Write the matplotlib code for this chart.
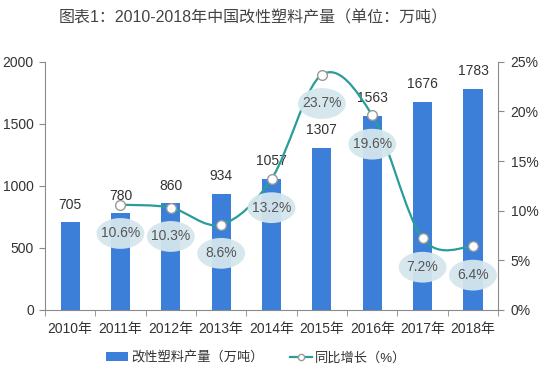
import matplotlib
matplotlib.use("Agg")
import matplotlib.pyplot as plt
import numpy as np
from matplotlib.path import Path
from matplotlib.patches import PathPatch, Ellipse
from matplotlib.lines import Line2D
from matplotlib.patches import Patch

plt.rcParams['font.family'] = ['Liberation Sans', 'Noto Sans CJK SC', 'DejaVu Sans']

years = ["2010年", "2011年", "2012年", "2013年", "2014年", "2015年", "2016年", "2017年", "2018年"]
output = [705, 780, 860, 934, 1057, 1307, 1563, 1676, 1783]
growth = [None, 10.6, 10.3, 8.6, 13.2, 23.7, 19.6, 7.2, 6.4]
growth_labels = ["", "10.6%", "10.3%", "8.6%", "13.2%", "23.7%", "19.6%", "7.2%", "6.4%"]
left_ticks = [0, 500, 1000, 1500, 2000]
right_ticks = [0, 5, 10, 15, 20, 25]

bar_color = "#3b7fd8"
line_color = "#2a9d9a"
axis_color = "#8a8a8a"
text_color = "#333333"

fig = plt.figure(figsize=(5.48, 3.84), dpi=100)
ax = fig.add_axes([0.082, 0.193, 0.827, 0.646])
ax2 = ax.twinx()

x = np.arange(len(years))
ax.bar(x, output, width=0.38, color=bar_color, zorder=2)
for xi, v in zip(x, output):
    ax.text(xi, v + 85, str(v), ha='center', va='bottom', fontsize=10, color=text_color)

ax.set_xlim(-0.5, len(years) - 0.5)
ax.set_ylim(0, 2000)
ax.set_yticks(left_ticks)
ax.set_yticklabels([str(t) for t in left_ticks], fontsize=10, color=text_color)
ax.set_xticks(x)
ax.set_xticklabels(years, fontsize=10, color=text_color)
ax.set_xticks(np.arange(-0.5, len(years), 1.0), minor=True)
ax.tick_params(axis='x', which='major', length=0, pad=9)
ax.tick_params(axis='x', which='minor', length=4, color=axis_color)
ax.tick_params(axis='y', length=4, color=axis_color, pad=4)

ax2.set_ylim(0, 25)
ax2.set_yticks(right_ticks)
ax2.set_yticklabels([f"{t}%" for t in right_ticks], fontsize=10, color=text_color)
ax2.tick_params(axis='y', length=4, color=axis_color, pad=5)

for a in (ax, ax2):
    a.spines['top'].set_visible(False)
    a.spines['left'].set_color(axis_color)
    a.spines['right'].set_color(axis_color)
    a.spines['bottom'].set_color(axis_color)
ax2.spines['left'].set_visible(False)
ax.spines['right'].set_visible(False)
ax2.spines['bottom'].set_visible(False)

# smooth line (Catmull-Rom as Bezier path)
gx = [xi for xi, g in zip(x, growth) if g is not None]
gy = [g for g in growth if g is not None]
pts = list(zip(gx, gy))
verts = [pts[0]]
codes = [Path.MOVETO]
n = len(pts)
for i in range(n - 1):
    p0 = pts[i - 1] if i > 0 else pts[i]
    p1 = pts[i]
    p2 = pts[i + 1]
    p3 = pts[i + 2] if i + 2 < n else pts[i + 1]
    c1 = (p1[0] + (p2[0] - p0[0]) / 6, p1[1] + (p2[1] - p0[1]) / 6)
    c2 = (p2[0] - (p3[0] - p1[0]) / 6, p2[1] - (p3[1] - p1[1]) / 6)
    verts += [c1, c2, p2]
    codes += [Path.CURVE4] * 3
ax2.add_patch(PathPatch(Path(verts, codes), facecolor='none', edgecolor=line_color, lw=1.6, zorder=3))
ax2.plot(gx, gy, linestyle='none', marker='o', markersize=7, markerfacecolor='white',
         markeredgecolor='#9a9a9a', markeredgewidth=1.0, zorder=4)

# label bubbles below points
for xi, g, lab in zip(x, growth, growth_labels):
    if g is None:
        continue
    ly = g - 2.9
    e = Ellipse((xi, ly), width=0.95, height=3.1, facecolor='#d5e6ee', edgecolor='none', alpha=0.95, zorder=5)
    ax2.add_patch(e)
    ax2.text(xi, ly, lab, ha='center', va='center', fontsize=10, color='#555555', zorder=6)

fig.text(0.462, 0.953, "图表1：2010-2018年中国改性塑料产量（单位：万吨）", ha='center', va='center',
         fontsize=11.5, color='#444444')

handles = [Patch(facecolor=bar_color, edgecolor='none'),
           Line2D([0], [0], color=line_color, lw=1.6, marker='o', markersize=4.5,
                  markerfacecolor='white', markeredgecolor='#9a9a9a')]
fig.legend(handles, ["改性塑料产量（万吨）", "同比增长（%）"], loc='center', bbox_to_anchor=(0.467, 0.068),
           ncol=2, frameon=False, fontsize=9.5, handlelength=1.7, handletextpad=0.2, columnspacing=2.0,
           labelcolor=text_color)

fig.savefig("out.png", dpi=100, facecolor='white')
